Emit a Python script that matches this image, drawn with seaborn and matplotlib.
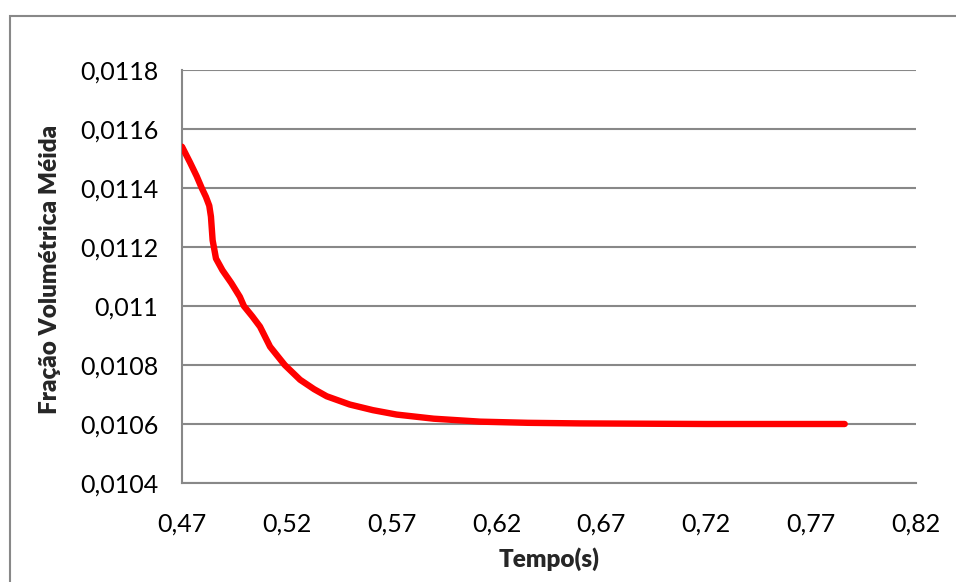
import matplotlib
matplotlib.use("Agg")
import matplotlib.pyplot as plt
import matplotlib.patches as mpatches
from matplotlib.ticker import FixedLocator, FuncFormatter
import seaborn as sns
import pandas as pd

# Mean volume fraction over time
tempo = [0.4700, 0.4738, 0.4770, 0.4794, 0.4814, 0.4830, 0.4838, 0.4846,
         0.4862, 0.4893, 0.4935, 0.4976, 0.4995, 0.5035, 0.5072, 0.5120,
         0.5190, 0.5263, 0.5330, 0.5390, 0.5500, 0.5610, 0.5723, 0.5900,
         0.6121, 0.6350, 0.6600, 0.6900, 0.7200, 0.7550, 0.7860]
fracao = [0.011540, 0.011487, 0.011440, 0.011400, 0.011370, 0.011340, 0.011303, 0.011223,
          0.011161, 0.011121, 0.011078, 0.011031, 0.011000, 0.010965, 0.010930, 0.010862,
          0.010800, 0.010750, 0.010718, 0.010694, 0.010666, 0.010647, 0.010632, 0.010618,
          0.010608, 0.010604, 0.010602, 0.010601, 0.010600, 0.010600, 0.010600]

x_ticks = [0.47, 0.52, 0.57, 0.62, 0.67, 0.72, 0.77, 0.82]
y_ticks = [0.0104, 0.0106, 0.0108, 0.0110, 0.0112, 0.0114, 0.0116, 0.0118]

sns.set_theme(style="white")
plt.rcParams["font.family"] = ["Lato", "DejaVu Sans"]

GRAY = "#888888"

df = pd.DataFrame({"Tempo": tempo, "Fracao": fracao})

fig = plt.figure(figsize=(9.56, 5.82), dpi=100)
ax = fig.add_axes([182 / 956, 1 - 483 / 582, (916 - 182) / 956, (483 - 70) / 582])

sns.lineplot(data=df, x="Tempo", y="Fracao", sort=False, ax=ax,
             color="#FF0000", linewidth=4.6, solid_capstyle="round", zorder=3)

ax.set_xlim(0.47, 0.82)
ax.set_ylim(0.0104, 0.0118)
ax.xaxis.set_major_locator(FixedLocator(x_ticks))
ax.yaxis.set_major_locator(FixedLocator(y_ticks))

def comma_fmt(v, _pos):
    s = f"{v:.4f}".rstrip("0")
    return s.replace(".", ",")

def comma_fmt_x(v, _pos):
    return f"{v:.2f}".replace(".", ",")

ax.xaxis.set_major_formatter(FuncFormatter(comma_fmt_x))
ax.yaxis.set_major_formatter(FuncFormatter(comma_fmt))

ax.grid(axis="y", color=GRAY, linewidth=1.5, zorder=0)
ax.grid(axis="x", visible=False)
for side in ("top", "right"):
    ax.spines[side].set_visible(False)
for side in ("left", "bottom"):
    ax.spines[side].set_color(GRAY)
    ax.spines[side].set_linewidth(1.5)

ax.tick_params(axis="both", which="major", direction="out", colors=GRAY,
               labelcolor="black", labelsize=18, width=1.5)
ax.tick_params(axis="x", length=5.5, pad=16)
ax.tick_params(axis="y", length=6, pad=11)

ax.set_xlabel("Tempo(s)", fontsize=17.5, fontweight="heavy", labelpad=8)
ax.set_ylabel("Fração Volumétrica Méida", fontsize=17.5, fontweight="heavy")
ax.yaxis.set_label_coords(-0.165, 0.518)

# Chart frame around the figure area
frame = mpatches.Rectangle((9.5 / 956, -0.2), 1.2, 1 - 15.5 / 582 + 0.2,
                           transform=fig.transFigure, fill=False,
                           edgecolor=GRAY, linewidth=1.5)
fig.patches.append(frame)

fig.savefig("out.png", dpi=100, facecolor="white")
